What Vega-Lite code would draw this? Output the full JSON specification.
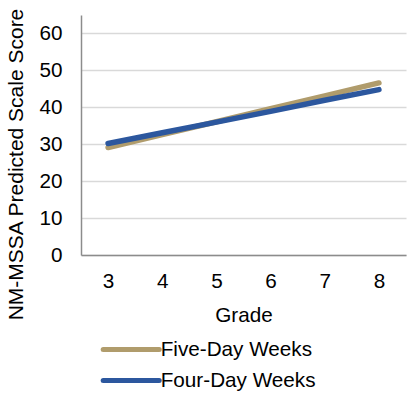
{
  "$schema": "https://vega.github.io/schema/vega-lite/v6.json",
  "autosize": {"type": "none"},
  "width": 325,
  "height": 240,
  "padding": {"left": 81, "top": 15, "right": 3, "bottom": 139},
  "background": "white",
  "config": {
    "view": {"stroke": null},
    "font": "Liberation Sans",
    "axis": {"labelFont": "Liberation Sans", "titleFont": "Liberation Sans", "labelColor": "#000", "titleColor": "#000", "titleFontWeight": "normal"}
  },
  "data": {
    "values": [
      {"grade": "3", "series": "Five-Day Weeks", "score": 29.1},
      {"grade": "4", "series": "Five-Day Weeks", "score": 32.6},
      {"grade": "5", "series": "Five-Day Weeks", "score": 36.1},
      {"grade": "6", "series": "Five-Day Weeks", "score": 39.6},
      {"grade": "7", "series": "Five-Day Weeks", "score": 43.1},
      {"grade": "8", "series": "Five-Day Weeks", "score": 46.6},
      {"grade": "3", "series": "Four-Day Weeks", "score": 30.2},
      {"grade": "4", "series": "Four-Day Weeks", "score": 33.1},
      {"grade": "5", "series": "Four-Day Weeks", "score": 36.0},
      {"grade": "6", "series": "Four-Day Weeks", "score": 38.9},
      {"grade": "7", "series": "Four-Day Weeks", "score": 41.9},
      {"grade": "8", "series": "Four-Day Weeks", "score": 44.8}
    ]
  },
  "mark": {"type": "line", "strokeWidth": 5.5, "strokeCap": "round"},
  "encoding": {
    "x": {
      "field": "grade", "type": "ordinal", "title": "Grade",
      "scale": {"type": "point", "padding": 0.5},
      "axis": {"labelAngle": 0, "labelFontSize": 20.7, "titleFontSize": 20.7, "ticks": false, "labelPadding": 16, "titlePadding": 15, "domainColor": "#8c8c8c", "domainWidth": 1.5, "grid": false}
    },
    "y": {
      "field": "score", "type": "quantitative", "title": "NM-MSSA Predicted Scale Score",
      "scale": {"domain": [0, 65], "nice": false},
      "axis": {"values": [0, 10, 20, 30, 40, 50, 60], "labelFontSize": 20.7, "titleFontSize": 21, "ticks": false, "labelPadding": 19, "titlePadding": 12, "titleY": 149, "domainColor": "#8c8c8c", "domainWidth": 1.5, "grid": true, "gridColor": "#d9d9d9", "gridWidth": 1.5}
    },
    "color": {
      "field": "series", "type": "nominal", "title": null,
      "scale": {"domain": ["Five-Day Weeks", "Four-Day Weeks"], "range": ["#B09C6C", "#2C579E"]},
      "legend": {
        "orient": "none", "legendX": 33.7, "legendY": 318, "direction": "vertical",
        "symbolType": "M-2,0H2", "symbolSize": 784, "symbolStrokeWidth": 5,
        "labelFontSize": 20.7, "labelColor": "#000", "labelFont": "Liberation Sans",
        "rowPadding": 4, "labelOffset": 13, "labelLimit": 300,
        "encode": {"symbols": {"update": {"strokeCap": {"value": "round"}}}}
      }
    }
  }
}
